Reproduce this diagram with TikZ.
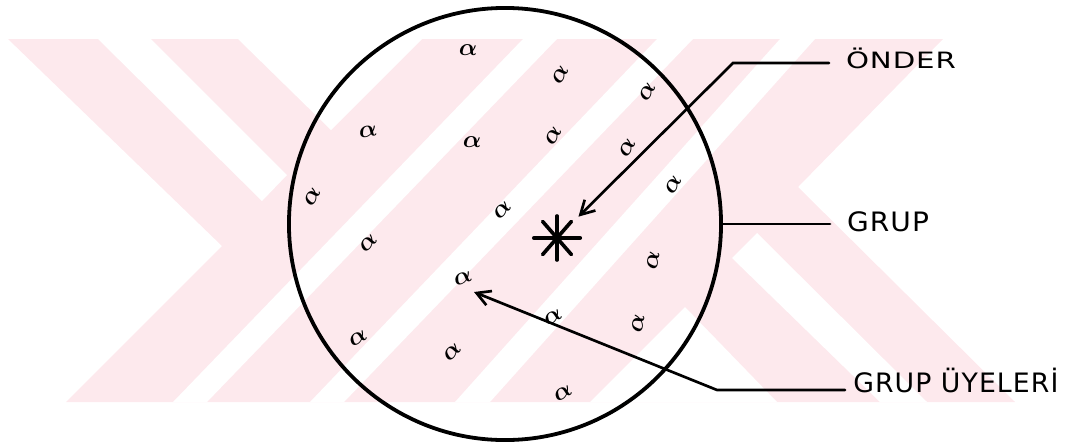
\documentclass[tikz,border=0pt]{standalone}
\usepackage{amsmath}
\usepackage{fontspec}
\usetikzlibrary{arrows.meta}
\newfontfamily\hand{DejaVu Sans}
\definecolor{wmpink}{RGB}{253,233,237}

\begin{document}
\begin{tikzpicture}[x=0.025cm, y=-0.025cm, >={Straight Barb[length=3.4mm,width=3.8mm]}, line cap=round]
    \tikzset{lbl/.style={anchor=base west, inner xsep=0.42cm, inner ysep=0pt, font=\hand\fontsize{18}{18}\selectfont},
             member/.style={inner sep=0pt, font=\fontsize{18}{18}\selectfont},
             leader/.style={line width=1.9pt}}
    \useasboundingbox (0,0) rectangle (1070,442);
    \fill[wmpink] (8,39) -- (943,39) -- (798,187) -- (1015,402) -- (66,402) -- (222,246) -- cycle;
    \fill[white] (98,39) -- (151,39) -- (287,175) -- (262,201) -- cycle;
    \fill[white] (238,39) -- (422,39) -- (331,130) -- cycle;
    \fill[white] (523,39) -- (557,39) -- (207,402) -- (173,402) -- cycle;
    \fill[white] (657,39) -- (693,39) -- (344,402) -- (310,402) -- cycle;
    \fill[white] (780,39) -- (815,39) -- (490,402) -- (455,402) -- cycle;
    \fill[white] (685,307) -- (777,402) -- (590,402) -- cycle;
    \fill[white] (732,258) -- (757,233) -- (927,402) -- (880,402) -- cycle;
    \node[draw, circle, line width=2.7pt, minimum size=10.8cm, inner sep=0pt] (grup) at (505,224) {};
    \node[circle, minimum size=1.5cm, inner sep=0pt] (star) at (557,238) {};
    \foreach \a/\r in {0/0.58cm, 49/0.55cm, 90/0.55cm, 131/0.55cm}
        \draw[line width=2.6pt] ([shift={(\a:\r)}]star.center) -- ([shift={(\a+180:\r)}]star.center);
    \foreach \px/\py/\r [count=\i] in {468/50/0, 560/75/60, 647/92/60, 368/132/10, 472/142/0, 553/136/60,
        627/148/60, 312/197/60, 673/185/60, 502/210/45, 368/243/45, 653/260/80, 463/278/20,
        553/317/30, 638/323/80, 358/338/30, 452/352/45, 563/393/30}
        \node[member, rotate=\r] (m\i) at (\px,\py) {$\boldsymbol{\alpha}$};
    \coordinate (onderelbow) at (733,63);
    \coordinate (uyeelbow) at (717,390);
    \coordinate (membertip) at (474,292);
    \node[lbl, font=\hand\fontsize{16}{16}\selectfont\addfontfeature{FakeStretch=1.3,LetterSpace=4}] (onderlbl) at (829,68) {ÖNDER};
    \node[lbl, font=\hand\fontsize{19}{19}\selectfont\addfontfeature{FakeStretch=1.05,LetterSpace=4}] (gruplbl) at (830,231) {GRUP};
    \node[lbl, inner xsep=0.2cm, font=\hand\fontsize{19}{19}\selectfont\addfontfeature{LetterSpace=4}] (uyelbl) at (845,392) {GRUP ÜYELERİ};
    \draw[<-, leader] (star) -- (onderelbow) -- (onderelbow -| onderlbl.west);
    \draw[leader] (grup.east) -- (grup.east -| gruplbl.west);
    \draw[<-, leader] (membertip) -- (uyeelbow) -- (uyeelbow -| uyelbl.west);
\end{tikzpicture}
\end{document}
